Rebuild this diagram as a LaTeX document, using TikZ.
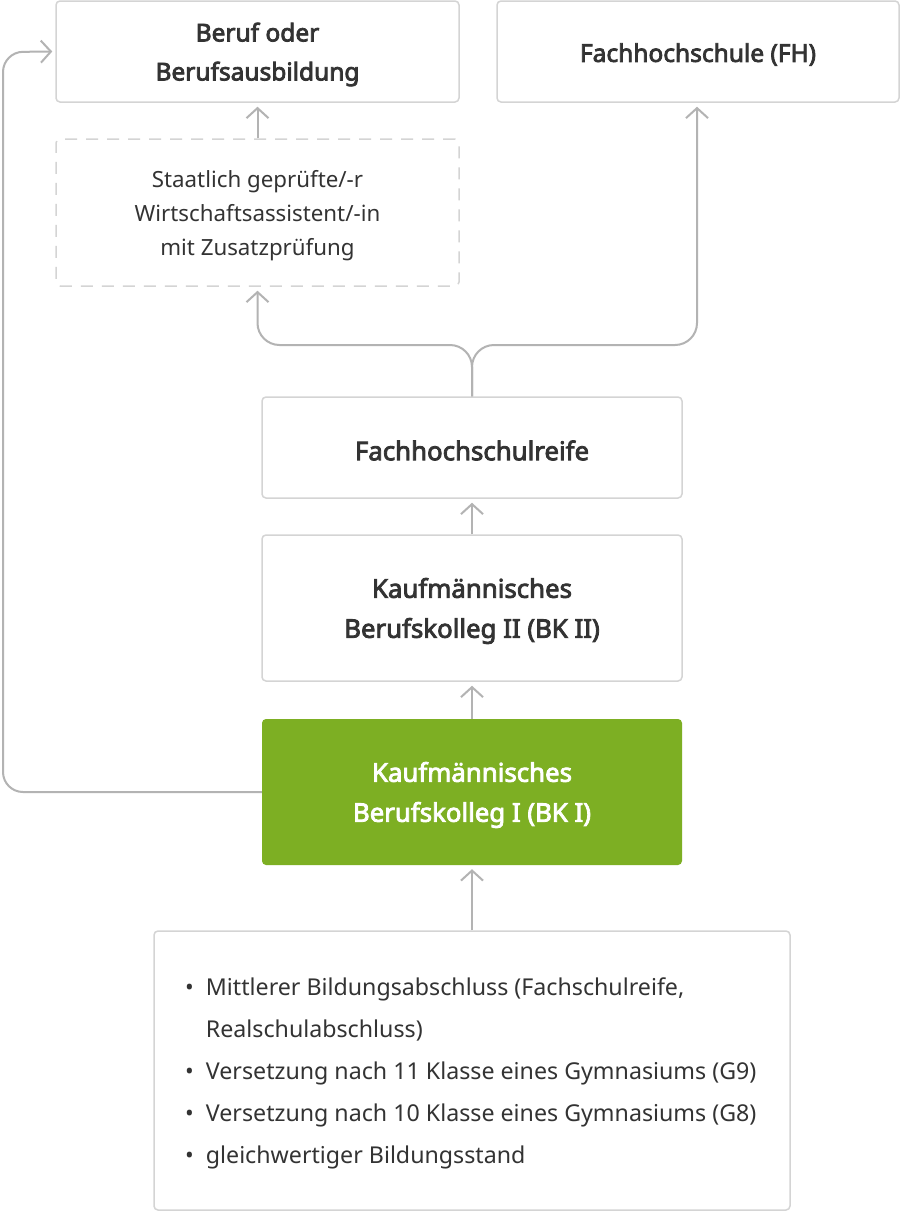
\documentclass[tikz,border=0pt]{standalone}
\usepackage{fontspec}
\setmainfont{Noto Sans}[BoldFont={Noto Sans}, BoldFeatures={FakeBold=3.2}]
\usetikzlibrary{arrows.meta}
\definecolor{bordergray}{HTML}{D4D4D4}
\definecolor{arrowgray}{HTML}{B3B3B3}
\definecolor{textdark}{HTML}{333333}
\definecolor{bkgreen}{HTML}{7DAF23}
\tikzset{
  box/.style={draw=bordergray, line width=1.5pt, rounded corners=4pt, fill=white, inner sep=0pt},
  dashbox/.style={box, dash pattern=on 12pt off 9pt},
  greenbox/.style={fill=bkgreen, draw=none, rounded corners=4pt, inner sep=0pt},
  headtext/.style={align=center, text=textdark, inner sep=0pt, yshift=-3pt, font=\fontsize{24.5}{39}\selectfont\bfseries},
  bigheadtext/.style={headtext, font=\fontsize{25.8}{40}\selectfont\bfseries},
  whitetext/.style={bigheadtext, text=white},
  plaintext/.style={align=center, text=textdark, inner sep=0pt, yshift=-3.5pt, font=\fontsize{22.3}{34}\selectfont},
  arr/.style={draw=arrowgray, line width=2pt, -{Straight Barb[length=10pt,width=22pt,line width=2pt]}, shorten >=4pt},
}
\begin{document}
\begin{tikzpicture}[x=1pt,y=-1pt]
\useasboundingbox (0,0) rectangle (900,1211);
\fill[white] (0,0) rectangle (900,1211);
% boxes
\node[box, minimum width=403pt, minimum height=101pt, label={[headtext]center:{Beruf oder\\Berufsausbildung}}] (beruf) at (257.5,51.5) {};
\node[box, minimum width=402pt, minimum height=101pt, label={[headtext]center:{Fachhochschule (FH)}}] (fh) at (698,51.5) {};
\node[dashbox, minimum width=403pt, minimum height=147pt, label={[plaintext]center:{Staatlich geprüfte/-r\\Wirtschaftsassistent/-in\\mit Zusatzprüfung}}] (wa) at (257.5,212.5) {};
\node[box, minimum width=420pt, minimum height=101pt, label={[bigheadtext]center:{Fachhochschulreife}}] (fhr) at (472,447.5) {};
\node[box, minimum width=420pt, minimum height=146pt, label={[bigheadtext]center:{Kaufmännisches\\Berufskolleg II (BK II)}}] (bk2) at (472,608) {};
\node[greenbox, minimum width=420pt, minimum height=146pt, label={[whitetext]center:{Kaufmännisches\\Berufskolleg I (BK I)}}] (bk1) at (472,792) {};
\node[box, minimum width=636pt, minimum height=279pt] (req) at (472,1070.5) {};
\node[anchor=north west, inner sep=0pt, text=textdark, font=\fontsize{23.2}{42}\selectfont] (reqtext) at (185,966) {%
  \begin{tabular}{@{}l@{\hspace{12pt}}l@{}}
  • & Mittlerer Bildungsabschluss (Fachschulreife,\\
    & Realschulabschluss)\\
  • & Versetzung nach 11 Klasse eines Gymnasiums (G9)\\
  • & Versetzung nach 10 Klasse eines Gymnasiums (G8)\\
  • & gleichwertiger Bildungsstand
  \end{tabular}};
% connectors
\draw[arr] (req.north) -- (bk1.south);
\draw[arr] (bk1.north) -- (bk2.south);
\draw[arr] (bk2.north) -- (fhr.south);
\draw[arr, rounded corners=22pt] (fhr.north) -- (472,345) -- (257.5,345) -- (wa.south);
\draw[arr, rounded corners=22pt] (fhr.north) -- (472,345) -- (697,345) -- (fh.south -| 697,102);
\draw[arr] (wa.north) -- (beruf.south);
\draw[arr, rounded corners=20pt, shorten >=3pt] (bk1.west) -- (3,792) -- (3,52) -- (beruf.west);
\end{tikzpicture}
\end{document}
